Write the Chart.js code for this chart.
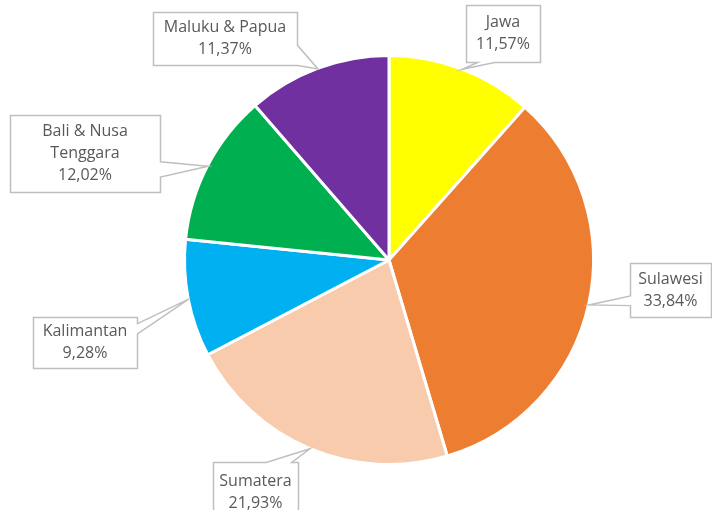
<!DOCTYPE html>
<html lang="id">
<head>
    <meta charset="UTF-8">
    <title>Pie Chart</title>
    <style>
        html, body { margin: 0; padding: 0; background: #fff; }
        #wrap { width: 712px; height: 510px; position: relative; }
    </style>
    <script src="https://cdn.jsdelivr.net/npm/chart.js"></script>
</head>
<body>
    <div id="wrap"><canvas id="pie"></canvas></div>
    <script>
        // data
        const regions = ['Jawa', 'Sulawesi', 'Sumatera', 'Kalimantan', 'Bali & Nusa Tenggara', 'Maluku & Papua'];
        const shares = [11.57, 33.84, 21.93, 9.28, 12.02, 11.37];
        const sliceColors = ['#FFFF00', '#ED7D31', '#F8CBAD', '#00B0F0', '#00B050', '#7030A0'];

        // callout boxes: lines of text, box rect, which side the pointer leaves from, where on that side
        const callouts = [
            { lines: ['Jawa'], box: [466, 5, 74, 57], side: 'bottom', at: [0.15, 0.38] },
            { lines: ['Sulawesi'], box: [630, 263, 81, 54], side: 'left', at: [0.6, 0.78] },
            { lines: ['Sumatera'], box: [213, 462, 85, 60], side: 'top', at: [0.62, 0.92] },
            { lines: ['Kalimantan'], box: [33, 317, 104, 51], side: 'right', at: [0.12, 0.32] },
            { lines: ['Bali & Nusa', 'Tenggara'], box: [10, 115, 150, 77], side: 'right', at: [0.6, 0.8] },
            { lines: ['Maluku & Papua'], box: [153, 12, 144, 53], side: 'right', at: [0.62, 1.0] }
        ];

        const fmt = v => v.toFixed(2).replace('.', ',') + '%';

        const calloutPlugin = {
            id: 'callouts',
            afterDraw(chart) {
                const ctx = chart.ctx;
                const arcs = chart.getDatasetMeta(0).data;
                ctx.save();
                callouts.forEach((c, i) => {
                    const arc = arcs[i];
                    const mid = (arc.startAngle + arc.endAngle) / 2;
                    const tip = [arc.x + Math.cos(mid) * arc.outerRadius, arc.y + Math.sin(mid) * arc.outerRadius];
                    const [x, y, w, h] = c.box;
                    const L = x, R = x + w, T = y, B = y + h;
                    let pts;
                    if (c.side === 'right') {
                        const a = T + h * c.at[0], b = T + h * c.at[1];
                        pts = [[L, T], [R, T], [R, a], tip, [R, b], [R, B], [L, B]];
                    } else if (c.side === 'left') {
                        const a = T + h * c.at[0], b = T + h * c.at[1];
                        pts = [[L, T], [R, T], [R, B], [L, B], [L, b], tip, [L, a]];
                    } else if (c.side === 'top') {
                        const a = L + w * c.at[0], b = L + w * c.at[1];
                        pts = [[L, T], [a, T], tip, [b, T], [R, T], [R, B], [L, B]];
                    } else {
                        const a = L + w * c.at[0], b = L + w * c.at[1];
                        pts = [[L, T], [R, T], [R, B], [b, B], tip, [a, B], [L, B]];
                    }
                    ctx.beginPath();
                    pts.forEach((p, k) => k ? ctx.lineTo(p[0] + 0.5, p[1] + 0.5) : ctx.moveTo(p[0] + 0.5, p[1] + 0.5));
                    ctx.closePath();
                    ctx.fillStyle = '#FFFFFF';
                    ctx.fill();
                    ctx.strokeStyle = '#BFBFBF';
                    ctx.lineWidth = 1.5;
                    ctx.stroke();

                    const text = c.lines.concat([fmt(shares[i])]);
                    const lh = 22;
                    ctx.fillStyle = '#595959';
                    ctx.font = '16px "Open Sans", sans-serif';
                    ctx.textAlign = 'center';
                    ctx.textBaseline = 'middle';
                    const cy = y + h / 2 - (text.length - 1) * lh / 2;
                    text.forEach((t, k) => ctx.fillText(t, x + w / 2, cy + k * lh));
                });
                ctx.restore();
            }
        };

        new Chart(document.getElementById('pie').getContext('2d'), {
            type: 'pie',
            data: {
                labels: regions,
                datasets: [{
                    data: shares,
                    backgroundColor: sliceColors,
                    borderColor: '#FFFFFF',
                    borderWidth: 3
                }]
            },
            options: {
                responsive: true,
                maintainAspectRatio: false,
                animation: false,
                layout: { padding: { left: 183, right: 117, top: 54, bottom: 44 } },
                plugins: {
                    legend: { display: false },
                    tooltip: { enabled: false }
                }
            },
            plugins: [calloutPlugin]
        });
    </script>
</body>
</html>
